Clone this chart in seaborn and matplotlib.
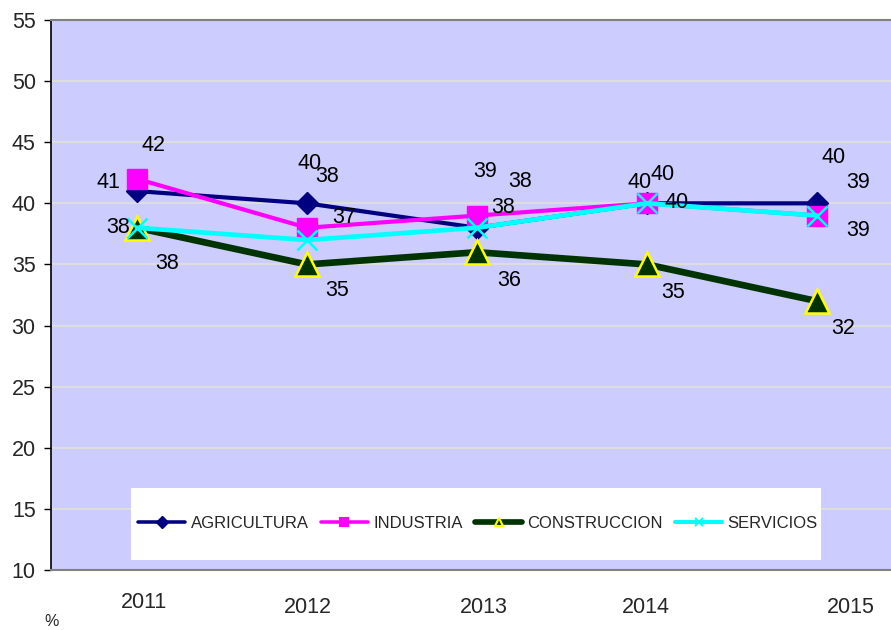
import matplotlib
matplotlib.use("Agg")
import matplotlib.pyplot as plt
import matplotlib.transforms as mtransforms
from matplotlib.lines import Line2D
from matplotlib.patches import Rectangle
import seaborn as sns
import pandas as pd

# Values per sector (%)
years = ["2011", "2012", "2013", "2014", "2015"]
agricultura = [41, 40, 38, 40, 40]
industria = [42, 38, 39, 40, 39]
construccion = [38, 35, 36, 35, 32]
servicios = [38, 37, 38, 40, 39]
series_names = ["AGRICULTURA", "INDUSTRIA", "CONSTRUCCION", "SERVICIOS"]
yticks = [10, 15, 20, 25, 30, 35, 40, 45, 50, 55]

df = pd.DataFrame({
    "year": years,
    "AGRICULTURA": agricultura,
    "INDUSTRIA": industria,
    "CONSTRUCCION": construccion,
    "SERVICIOS": servicios,
})

styles = {
    "AGRICULTURA": dict(color="#000080", marker="D", markersize=11, lw=3.0,
                        mec="#000080", mew=1),
    "INDUSTRIA": dict(color="#FF00FF", marker="s", markersize=14, lw=3.0,
                      mec="#FF00FF", mew=1),
    "CONSTRUCCION": dict(color="#003300", marker="^", markersize=17, lw=4.8,
                         mec="#FFFF00", mew=1.8),
    "SERVICIOS": dict(color="#00FFFF", marker="x", markersize=15, lw=3.4,
                      mec="#00FFFF", mew=1.8),
}

# data label offsets in pixels (dx right, dy down)
label_offsets = {
    "AGRICULTURA": [(-29, -9), (3, -40), (43, -46), (16, -29), (17, -46)],
    "INDUSTRIA": [(16, -33), (20, -51), (8, -44), (-7, -21), (41, -33)],
    "CONSTRUCCION": [(30, 36), (30, 26), (32, 28), (26, 28), (26, 27)],
    "SERVICIOS": [(-19, 0), (37, -22), (26, -20), (30, -1), (41, 15)],
}

sns.set_style("white")
plt.rcParams["font.family"] = ["Liberation Sans", "DejaVu Sans"]

dpi = 100
fig = plt.figure(figsize=(8.91, 6.30), dpi=dpi)
ax = fig.add_axes([51 / 891, 1 - 570 / 630, 1 - 51 / 891, 550 / 630])
ax.set_facecolor("#CCCCFF")

for name in series_names:
    st = styles[name]
    sns.lineplot(data=df, x="year", y=name, ax=ax, color=st["color"],
                 linewidth=st["lw"], marker=st["marker"],
                 markersize=st["markersize"], markeredgecolor=st["mec"],
                 markeredgewidth=st["mew"], legend=False)

px = 72.0 / dpi
for name in series_names:
    for i, v in enumerate(df[name]):
        dx, dy = label_offsets[name][i]
        ax.annotate(str(v), (i, v), xytext=(dx * px, -dy * px),
                    textcoords="offset points", ha="center", va="center",
                    fontsize=15.5, color="black", zorder=10)

ax.set_ylim(10, 55)
ax.set_xlim(-0.506, 4.435)
ax.set_yticks(yticks)
ax.set_yticklabels([str(t) for t in yticks], fontsize=15.5)
ax.yaxis.grid(True, color="#DDDDDD", linewidth=1.5)
ax.set_axisbelow(True)
ax.set_xlabel("")
ax.set_ylabel("")

ax.tick_params(axis="y", left=True, length=5, width=1, color="black", pad=6)
ax.tick_params(axis="x", bottom=False, pad=16, labelsize=15.5)

# staggered year labels
xl_offsets = [(7, -5), (1, 0), (7, 0), (-1, 0), (34, 0)]
for lab, (dx, dy) in zip(ax.get_xticklabels(), xl_offsets):
    lab.set_transform(lab.get_transform() +
                      mtransforms.ScaledTranslation(dx / dpi, -dy / dpi,
                                                    fig.dpi_scale_trans))

ax.spines["left"].set_color("black")
ax.spines["left"].set_linewidth(1.2)
ax.spines["bottom"].set_color("#808080")
ax.spines["bottom"].set_linewidth(1.5)
ax.spines["top"].set_color("#808080")
ax.spines["top"].set_linewidth(1.5)
ax.spines["right"].set_visible(False)

# white legend panel
panel = Rectangle(((131 - 51) / 840, (570 - 560) / 550), (821 - 131) / 840,
                  72 / 550, transform=ax.transAxes, facecolor="white",
                  edgecolor="none", zorder=4)
ax.add_patch(panel)

handles = []
for name in series_names:
    st = styles[name]
    handles.append(Line2D([0], [0], color=st["color"], lw=st["lw"] * 0.85,
                          marker=st["marker"], markersize=6,
                          markeredgecolor=st["mec"],
                          markeredgewidth=1.5 if name != "AGRICULTURA" else 1,
                          markerfacecolor=st["color"]))
leg = ax.legend(handles, series_names, loc="center",
                bbox_to_anchor=((478 - 51) / 840, (570 - 523) / 550),
                ncol=4, frameon=False, fontsize=12, handlelength=2.8,
                handletextpad=0.33, columnspacing=0.75, borderaxespad=0,
                borderpad=0)
leg.set_zorder(5)

fig.text(52 / 891, 1 - 622 / 630, "%", fontsize=11.5, ha="center",
         va="center")

fig.savefig("out.png", dpi=dpi)
